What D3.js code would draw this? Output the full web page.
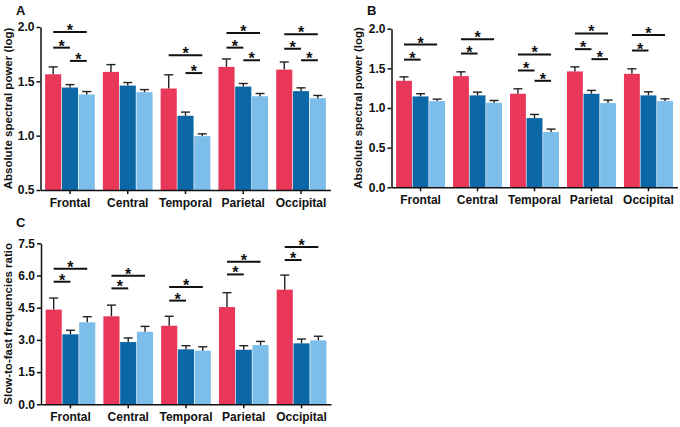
<!DOCTYPE html>
<html>
<head>
<meta charset="utf-8">
<script src="https://cdn.jsdelivr.net/npm/d3@7"></script>
<style>
  html, body { margin: 0; padding: 0; background: #fff; }
  svg { display: block; font-family: "Liberation Sans", Arial, sans-serif; }
  .axis text { font-size: 12px; font-weight: bold; fill: #111; }
  .axis path, .axis line { stroke: #111; stroke-width: 1.5px; }
</style>
</head>
<body>
<svg id="chart" width="680" height="427"></svg>
<script>
// ---------- data ----------
const categories = ["Frontal", "Central", "Temporal", "Parietal", "Occipital"];
const seriesColors = ["#E9375A", "#0B67A6", "#7DBDE9"];

// Panel A: absolute spectral power (log)
const aRed   = [1.565, 1.587, 1.434, 1.633, 1.608];
const aRedErr = [0.068, 0.067, 0.126, 0.073, 0.070];
const aDark  = [1.443, 1.461, 1.183, 1.452, 1.410];
const aDarkErr = [0.027, 0.028, 0.034, 0.028, 0.030];
const aLight = [1.379, 1.400, 0.996, 1.363, 1.345];
const aLightErr = [0.027, 0.024, 0.021, 0.025, 0.025];
const aTicks = [0.5, 1.0, 1.5, 2.0];
// significance brackets: [category index, from series, to series, level]
const aSig = [
  [0, 0, 2, 1.954], [0, 0, 1, 1.810], [0, 1, 2, 1.688],
  [2, 0, 2, 1.740], [2, 1, 2, 1.576],
  [3, 0, 2, 1.945], [3, 0, 1, 1.810], [3, 1, 2, 1.694],
  [4, 0, 2, 1.933], [4, 0, 1, 1.800], [4, 1, 2, 1.694]
];

// Panel B: absolute spectral power (log)
const bRed   = [1.343, 1.402, 1.180, 1.461, 1.431];
const bRedErr = [0.050, 0.054, 0.062, 0.058, 0.063];
const bDark  = [1.146, 1.159, 0.873, 1.179, 1.159];
const bDarkErr = [0.034, 0.041, 0.046, 0.043, 0.045];
const bLight = [1.087, 1.066, 0.696, 1.062, 1.087];
const bLightErr = [0.025, 0.029, 0.038, 0.038, 0.029];
const bTicks = [0.0, 0.5, 1.0, 1.5, 2.0];
const bSig = [
  [0, 0, 2, 1.800], [0, 0, 1, 1.610],
  [1, 0, 2, 1.868], [1, 0, 1, 1.687],
  [2, 0, 2, 1.675], [2, 0, 1, 1.473], [2, 1, 2, 1.343],
  [3, 0, 2, 1.940], [3, 0, 1, 1.742], [3, 1, 2, 1.616],
  [4, 0, 2, 1.922], [4, 0, 1, 1.725]
];

// Panel C: slow-to-fast frequencies ratio
const cRed   = [4.41, 4.10, 3.66, 4.53, 5.34];
const cRedErr = [0.54, 0.52, 0.44, 0.67, 0.68];
const cDark  = [3.26, 2.90, 2.56, 2.54, 2.84];
const cDarkErr = [0.19, 0.19, 0.17, 0.19, 0.20];
const cLight = [3.82, 3.38, 2.50, 2.76, 2.98];
const cLightErr = [0.26, 0.25, 0.18, 0.17, 0.19];
const cTicks = [0.0, 1.5, 3.0, 4.5, 6.0, 7.5];
const cSig = [
  [0, 0, 2, 6.32], [0, 0, 1, 5.71],
  [1, 0, 2, 5.99], [1, 0, 1, 5.40],
  [2, 0, 2, 5.46], [2, 0, 1, 4.83],
  [3, 0, 2, 6.64], [3, 0, 1, 6.05],
  [4, 0, 2, 7.33], [4, 0, 1, 6.72]
];

// ---------- drawing ----------
const svg = d3.select("#chart");

function drawPanel(opt) {
  const g = svg.append("g");
  const x = d3.scaleBand().domain(categories).range([opt.x0, opt.x1])
    .paddingInner(0.14).paddingOuter(0.08);
  const xs = d3.scaleBand().domain([0, 1, 2]).range([0, x.bandwidth()]).paddingInner(0.04);
  const y = d3.scaleLinear().domain([opt.ticks[0], opt.ticks[opt.ticks.length - 1]])
    .range([opt.yBottom, opt.yTop]);

  const rows = [];
  categories.forEach((c, i) => {
    opt.series.forEach((s, k) => rows.push({ cat: c, k: k, v: s.vals[i], e: s.errs[i] }));
  });

  // bars
  g.selectAll("rect.bar").data(rows).enter().append("rect")
    .attr("class", "bar")
    .attr("x", d => x(d.cat) + xs(d.k))
    .attr("width", xs.bandwidth())
    .attr("y", d => y(d.v))
    .attr("height", d => y(opt.ticks[0]) - y(d.v))
    .attr("fill", d => seriesColors[d.k]);

  // error bars (upper only)
  const cap = 4.5;
  const eg = g.selectAll("g.err").data(rows).enter().append("g").attr("class", "err")
    .attr("stroke", "#222").attr("stroke-width", 1.4);
  eg.append("line")
    .attr("x1", d => x(d.cat) + xs(d.k) + xs.bandwidth() / 2)
    .attr("x2", d => x(d.cat) + xs(d.k) + xs.bandwidth() / 2)
    .attr("y1", d => y(d.v))
    .attr("y2", d => y(d.v + d.e));
  eg.append("line")
    .attr("x1", d => x(d.cat) + xs(d.k) + xs.bandwidth() / 2 - cap)
    .attr("x2", d => x(d.cat) + xs(d.k) + xs.bandwidth() / 2 + cap)
    .attr("y1", d => y(d.v + d.e))
    .attr("y2", d => y(d.v + d.e));

  // significance brackets
  const sg = g.selectAll("g.sig").data(opt.sig).enter().append("g").attr("class", "sig");
  const cx = (ci, k) => x(categories[ci]) + xs(k) + xs.bandwidth() / 2;
  sg.append("line")
    .attr("x1", d => cx(d[0], d[1]))
    .attr("x2", d => cx(d[0], d[2]))
    .attr("y1", d => y(d[3]))
    .attr("y2", d => y(d[3]))
    .attr("stroke", "#111").attr("stroke-width", 2);
  sg.append("text")
    .attr("x", d => (cx(d[0], d[1]) + cx(d[0], d[2])) / 2)
    .attr("y", d => y(d[3]) + 4)
    .attr("text-anchor", "middle")
    .attr("font-size", 16).attr("font-weight", "bold").attr("fill", "#111")
    .text("*");

  // axes
  const yAxis = d3.axisLeft(y).tickValues(opt.ticks).tickFormat(d3.format(".1f"))
    .tickSize(4).tickPadding(2).tickSizeOuter(0);
  g.append("g").attr("class", "axis").attr("transform", `translate(${opt.x0},0)`).call(yAxis);

  const xAxis = d3.axisBottom(x).tickSize(4).tickPadding(4).tickSizeOuter(0);
  g.append("g").attr("class", "axis").attr("transform", `translate(0,${opt.yBottom})`).call(xAxis);

  // axis title
  g.append("text")
    .attr("transform", `translate(${opt.titleX},${(opt.yTop + opt.yBottom) / 2}) rotate(-90)`)
    .attr("text-anchor", "middle").attr("dy", "0.35em")
    .attr("font-size", 11.5).attr("font-weight", "bold").attr("fill", "#111")
    .text(opt.title);

  // panel letter
  g.append("text")
    .attr("x", opt.letterX).attr("y", opt.letterY)
    .attr("font-size", 13).attr("font-weight", "bold").attr("fill", "#111")
    .text(opt.letter);
}

drawPanel({
  letter: "A", letterX: 16, letterY: 15,
  x0: 40.5, x1: 330.5, yTop: 27, yBottom: 190, ticks: aTicks,
  title: "Absolute spectral power (log)", titleX: 7.5,
  series: [{ vals: aRed, errs: aRedErr }, { vals: aDark, errs: aDarkErr }, { vals: aLight, errs: aLightErr }],
  sig: aSig
});

drawPanel({
  letter: "B", letterX: 367, letterY: 15,
  x0: 391.5, x1: 677.5, yTop: 28.7, yBottom: 187.3, ticks: bTicks,
  title: "Absolute spectral power (log)", titleX: 358,
  series: [{ vals: bRed, errs: bRedErr }, { vals: bDark, errs: bDarkErr }, { vals: bLight, errs: bLightErr }],
  sig: bSig
});

drawPanel({
  letter: "C", letterX: 16, letterY: 227,
  x0: 41, x1: 331, yTop: 243.3, yBottom: 404.3, ticks: cTicks,
  title: "Slow-to-fast frequencies ratio", titleX: 7.5,
  series: [{ vals: cRed, errs: cRedErr }, { vals: cDark, errs: cDarkErr }, { vals: cLight, errs: cLightErr }],
  sig: cSig
});
</script>
</body>
</html>
